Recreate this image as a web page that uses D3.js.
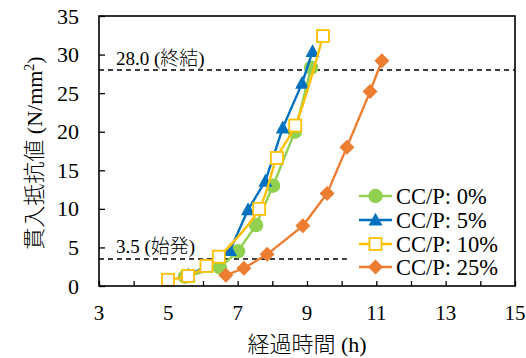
<!DOCTYPE html>
<html>
<head>
<meta charset="utf-8">
<script src="https://cdn.jsdelivr.net/npm/d3@7"></script>
<style>
  html, body { margin: 0; padding: 0; background: #fff; }
</style>
</head>
<body>
<svg id="chart" width="526" height="358"></svg>
<script>
// Penetration resistance vs elapsed time for each CC/P ratio
const seriesNames = ["CC/P: 0%", "CC/P: 5%", "CC/P: 10%", "CC/P: 25%"];
const seriesColors = ["#92D050", "#0070C0", "#FFC000", "#ED7D31"];
const seriesMarkers = ["circle", "triangle", "square", "diamond"];

const hours0  = [5.48, 6.49, 7.01, 7.53, 8.02, 8.65, 9.12];
const values0 = [1.2, 2.4, 4.5, 7.9, 13.0, 20.0, 28.3];

const hours5  = [5.58, 6.10, 6.78, 7.30, 7.80, 8.30, 8.86, 9.16];
const values5 = [1.4, 2.6, 4.6, 9.9, 13.6, 20.5, 26.3, 30.4];

const hours10  = [4.99, 5.57, 6.10, 6.46, 7.62, 8.13, 8.66, 9.46];
const values10 = [0.8, 1.3, 2.6, 3.8, 10.0, 16.6, 20.8, 32.4];

const hours25  = [6.66, 7.18, 7.85, 8.88, 9.58, 10.15, 10.82, 11.16];
const values25 = [1.4, 2.3, 4.1, 7.8, 12.0, 18.0, 25.2, 29.2];

const xTickValues = [3, 5, 7, 9, 11, 13, 15];
const yTickValues = [0, 5, 10, 15, 20, 25, 30, 35];

const finalSet = 28.0, finalLabel = "28.0 (終結)";
const initialSet = 3.5, initialLabel = "3.5 (始発)";

const xTitle = "経過時間 (h)";
const yTitleMain = "貫入抵抗値 (N/mm";
const yTitleSup = "2";
const yTitleEnd = ")";

const allHours = [hours0, hours5, hours10, hours25];
const allValues = [values0, values5, values10, values25];

const FONT = "'Liberation Serif', 'Times New Roman', 'Noto Sans CJK JP', serif";

const svg = d3.select("#chart");
const m = { left: 99, right: 515, top: 16, bottom: 286 };

const x = d3.scaleLinear().domain([3, 15]).range([m.left, m.right]);
const y = d3.scaleLinear().domain([0, 35]).range([m.bottom, m.top]);

function label(sel) {
  return sel.attr("font-family", FONT).attr("fill", "#000").attr("font-weight", 300);
}

// axes with inward ticks
const xAxis = d3.axisBottom(x).tickValues(d3.range(3, 16, 1)).tickSizeInner(-5).tickSizeOuter(0).tickFormat("");
const gx = svg.append("g").attr("transform", `translate(0,${m.bottom})`).call(xAxis);
gx.select(".domain").remove();
gx.selectAll("line").attr("stroke", "#000").attr("stroke-width", 1.3);

const yAxis = d3.axisLeft(y).tickValues(yTickValues).tickSizeInner(-6).tickSizeOuter(0).tickFormat("");
const gy = svg.append("g").attr("transform", `translate(${m.left},0)`).call(yAxis);
gy.select(".domain").remove();
gy.selectAll("line").attr("stroke", "#000").attr("stroke-width", 1.3);

// tick labels
svg.append("g").selectAll("text").data(xTickValues).join("text")
  .call(label)
  .attr("x", d => x(d)).attr("y", 320)
  .attr("text-anchor", "middle").attr("font-size", 21)
  .text(d => d);
svg.append("g").selectAll("text").data(yTickValues).join("text")
  .call(label)
  .attr("x", 79).attr("y", d => y(d) + 7.5)
  .attr("text-anchor", "end").attr("font-size", 22)
  .text(d => d);

// reference lines
svg.append("line")
  .attr("x1", x(3)).attr("x2", x(15)).attr("y1", y(finalSet)).attr("y2", y(finalSet))
  .attr("stroke", "#000").attr("stroke-width", 1.3).attr("stroke-dasharray", "5,4");
svg.append("line")
  .attr("x1", x(3)).attr("x2", x(10.15)).attr("y1", y(initialSet)).attr("y2", y(initialSet))
  .attr("stroke", "#000").attr("stroke-width", 1.3).attr("stroke-dasharray", "5,4");
svg.append("text").call(label).attr("x", 116).attr("y", y(finalSet) - 5).attr("font-size", 19).text(finalLabel);
svg.append("text").call(label).attr("x", 116).attr("y", y(initialSet) - 6).attr("font-size", 19).text(initialLabel);

// marker drawing
function drawMarker(g, type, color, cx, cy) {
  if (type === "circle") {
    g.append("circle").attr("cx", cx).attr("cy", cy).attr("r", 7.2).attr("fill", color);
  } else if (type === "triangle") {
    const s = 7;
    g.append("path").attr("d", `M${cx},${cy - s * 1.05}L${cx + s},${cy + s * 0.8}L${cx - s},${cy + s * 0.8}Z`).attr("fill", color);
  } else if (type === "square") {
    g.append("rect").attr("x", cx - 6).attr("y", cy - 6).attr("width", 12).attr("height", 12)
      .attr("fill", "#fff").attr("stroke", color).attr("stroke-width", 1.8);
  } else if (type === "diamond") {
    const s = 7.5;
    g.append("path").attr("d", `M${cx},${cy - s}L${cx + s},${cy}L${cx},${cy + s}L${cx - s},${cy}Z`).attr("fill", color);
  }
}

// series
allHours.forEach((hs, i) => {
  const pts = hs.map((h, j) => [x(h), y(allValues[i][j])]);
  const curve = i === 2 ? d3.curveCatmullRom.alpha(0.5) : d3.curveLinear;
  const line = d3.line().curve(curve);
  const g = svg.append("g");
  g.append("path").attr("d", line(pts)).attr("fill", "none")
    .attr("stroke", seriesColors[i]).attr("stroke-width", 2.4);
  pts.forEach(p => drawMarker(g, seriesMarkers[i], seriesColors[i], p[0], p[1]));
});

// frame
svg.append("rect").attr("x", m.left).attr("y", m.top)
  .attr("width", m.right - m.left).attr("height", m.bottom - m.top)
  .attr("fill", "none").attr("stroke", "#000").attr("stroke-width", 1.6);

// legend
const legendY = [196, 220, 244, 267];
seriesNames.forEach((name, i) => {
  const g = svg.append("g");
  g.append("line").attr("x1", 359).attr("x2", 392).attr("y1", legendY[i]).attr("y2", legendY[i])
    .attr("stroke", seriesColors[i]).attr("stroke-width", 2.4);
  drawMarker(g, seriesMarkers[i], seriesColors[i], 375.5, legendY[i]);
  g.append("text").call(label).attr("x", 396).attr("y", legendY[i] + 7.5).attr("font-size", 22.5).text(name);
});

// axis titles
svg.append("text").call(label).attr("x", 307).attr("y", 352).attr("text-anchor", "middle")
  .attr("font-size", 22).text(xTitle);
const yt = svg.append("text").call(label).attr("transform", "translate(42,153) rotate(-90)")
  .attr("text-anchor", "middle").attr("font-size", 22);
yt.append("tspan").text(yTitleMain);
yt.append("tspan").attr("font-size", 14).attr("dy", -8).text(yTitleSup);
yt.append("tspan").attr("dy", 8).text(yTitleEnd);
</script>
</body>
</html>
